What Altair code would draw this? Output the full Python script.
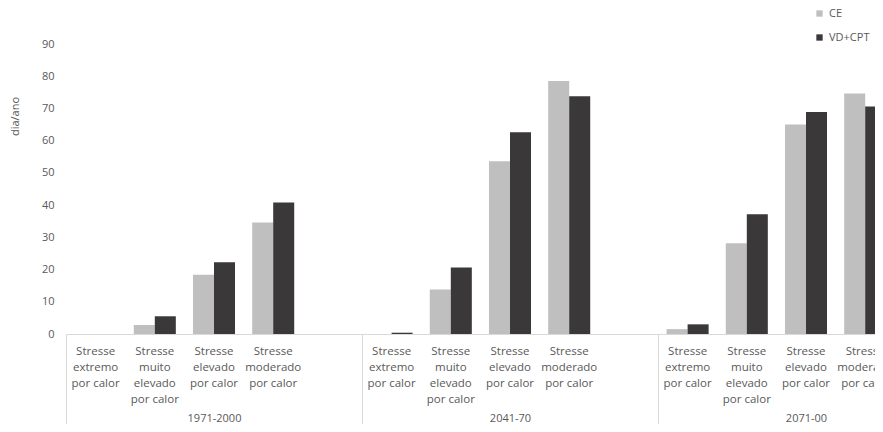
import altair as alt
import pandas as pd

periods = ["1971-2000", "2041-70", "2071-00"]
categories = [
    ["Stresse", "extremo", "por calor"],
    ["Stresse", "muito", "elevado", "por calor"],
    ["Stresse", "elevado", "por calor"],
    ["Stresse", "moderado", "por calor"],
]
series = ["CE", "VD+CPT"]
ce_values = [0, 2.8, 18.4, 34.6, 0, 13.8, 53.6, 78.5, 1.5, 28.2, 65.0, 74.6]
vd_values = [0, 5.5, 22.3, 40.8, 0.4, 20.6, 62.6, 73.8, 3.0, 37.2, 68.9, 70.6]

GRAY_TEXT = "#595959"
LINE = "#d9d9d9"
FONT = "Open Sans"

# slot keys: 4 categories + 1 empty slot per period
slot_domain = []
for pi, p in enumerate(periods):
    for ci, c in enumerate(categories):
        slot_domain.append(f"{pi}{ci}|" + "\n".join(c))
    slot_domain.append(f"{pi}9|")

rows = []
k = 0
for pi, p in enumerate(periods):
    for ci, c in enumerate(categories):
        key = f"{pi}{ci}|" + "\n".join(c)
        rows.append({"slot": key, "period": p, "serie": "CE", "value": ce_values[k]})
        rows.append({"slot": key, "period": p, "serie": "VD+CPT", "value": vd_values[k]})
        k += 1
df = pd.DataFrame(rows)

FULL_W = 888  # full plot width of the original (right part is cut off)
VIEW_W = 809
VIEW_H = 290

y_enc = alt.Y(
    "value:Q",
    scale=alt.Scale(domain=[0, 90], nice=False),
    axis=alt.Axis(
        values=list(range(0, 91, 10)),
        tickCount=10,
        title="dia/ano",
        titleX=-51,
        titleY=72,
        titleAlign="center",
        titleBaseline="middle",
        titleFont=FONT,
        titleFontSize=11,
        titleFontWeight="normal",
        titleColor=GRAY_TEXT,
        labelFont=FONT,
        labelFontSize=11,
        labelColor=GRAY_TEXT,
        labelPadding=12,
        labelOverlap=False,
        domain=False,
        ticks=False,
        grid=False,
    ),
)

bars = alt.Chart(df).mark_bar().encode(
    x=alt.X(
        "slot:N",
        sort=slot_domain,
        scale=alt.Scale(domain=slot_domain, range=[0, FULL_W], paddingInner=0.29, paddingOuter=0.145),
        axis=alt.Axis(
            title=None,
            labelExpr="split(split(datum.value, '|')[1], '\\n')",
            labelAngle=0,
            labelFont=FONT,
            labelFontSize=11.5,
            labelColor=GRAY_TEXT,
            labelLineHeight=16,
            labelBaseline="top",
            labelPadding=11,
            ticks=False,
            tickSize=0,
            domainColor=LINE,
            domainWidth=1,
            labelOverlap=False,
            orient="bottom",
        ),
    ),
    xOffset=alt.XOffset("serie:N", sort=series, scale=alt.Scale(paddingInner=0, paddingOuter=0)),
    y=y_enc,
    color=alt.Color(
        "serie:N",
        sort=series,
        scale=alt.Scale(domain=series, range=["#BFBFBF", "#3A3838"]),
        legend=alt.Legend(
            title=None,
            orient="none",
            legendX=748,
            legendY=-36,
            direction="vertical",
            symbolType="square",
            symbolSize=40,
            symbolStrokeWidth=0,
            labelFont=FONT,
            labelFontSize=11,
            labelColor=GRAY_TEXT,
            rowPadding=12,
        ),
    ),
)

period_layer = alt.Chart(df).mark_point(opacity=0).encode(
    x=alt.X(
        "period:N",
        sort=periods,
        scale=alt.Scale(domain=periods, range=[0, FULL_W], paddingInner=0, paddingOuter=0),
        axis=alt.Axis(
            title=None,
            orient="bottom",
            labelAngle=0,
            domain=False,
            ticks=True,
            tickBand="extent",
            tickSize=90,
            tickColor=LINE,
            tickWidth=1,
            labelFont=FONT,
            labelFontSize=11,
            labelColor=GRAY_TEXT,
            labelBaseline="top",
            labelPadding=-12,
        ),
    ),
    y=y_enc,
)

chart = (
    alt.layer(bars, period_layer)
    .resolve_scale(x="independent")
    .properties(
        width=VIEW_W,
        height=VIEW_H,
        padding={"left": 58, "top": 36, "right": 0, "bottom": 90},
        autosize=alt.AutoSizeParams(type="none"),
    )
    .configure_view(stroke=None)
)

chart.save("out.html", embed_options={"renderer": "svg", "actions": False})
